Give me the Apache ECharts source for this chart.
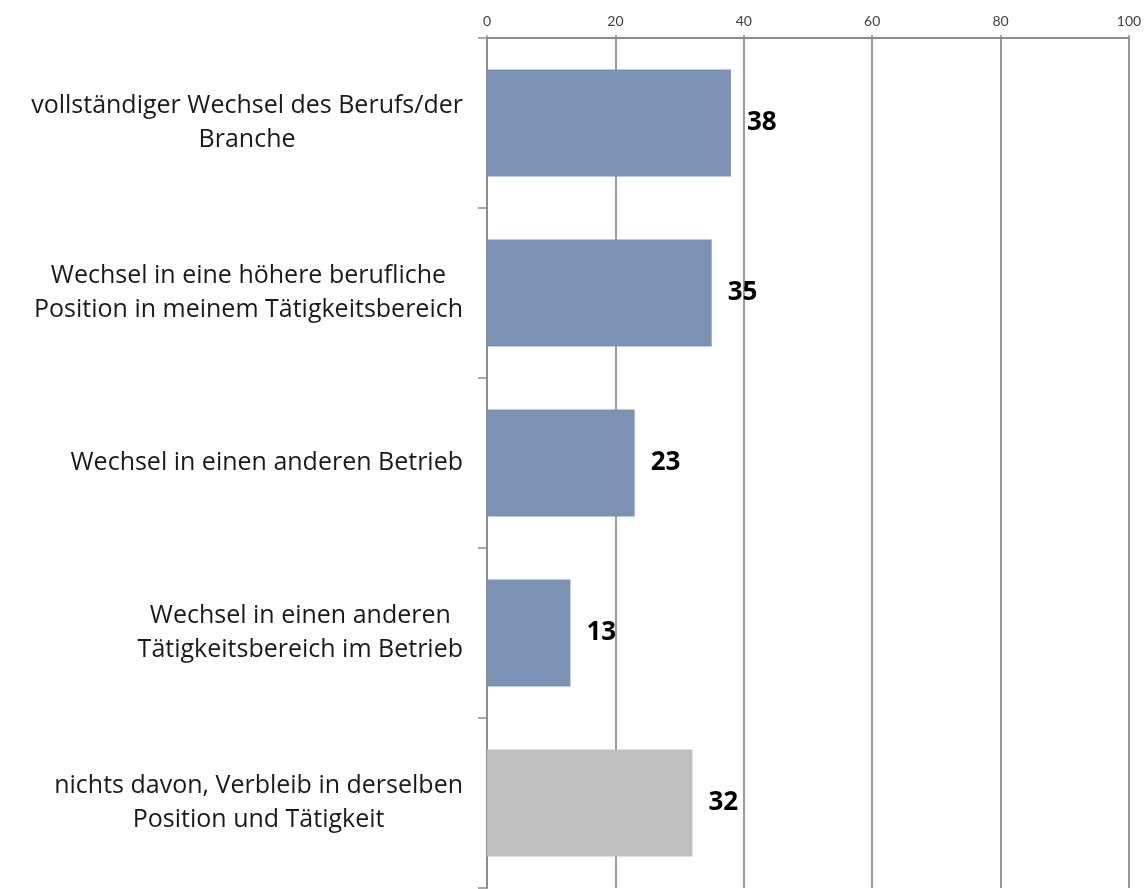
<!DOCTYPE html>
<html>
<head>
<meta charset="utf-8">
<script src="https://cdn.jsdelivr.net/npm/echarts@6/dist/echarts.min.js"></script>
<style>html,body{margin:0;padding:0;background:#fff;}#c{width:1146px;height:889px;}</style>
</head>
<body>
<div id="c"></div>
<script>
var categories = [
  ["vollständiger Wechsel des Berufs/der", "Branche"],
  ["Wechsel in eine höhere berufliche", "Position in meinem Tätigkeitsbereich"],
  ["Wechsel in einen anderen Betrieb"],
  ["Wechsel in einen anderen", "Tätigkeitsbereich im Betrieb"],
  ["nichts davon, Verbleib in derselben", "Position und Tätigkeit"]
];
var values = [38, 35, 23, 13, 32];
var barColors = ["#7c92b4", "#7c92b4", "#7c92b4", "#7c92b4", "#c0c0c0"];
var xTicks = [0, 20, 40, 60, 80, 100];

var chart = echarts.init(document.getElementById('c'), null, {renderer: 'canvas'});
var catNames = categories.map(function (c) { return c.join('\n'); });
chart.setOption({
  animation: false,
  backgroundColor: '#ffffff',
  grid: {left: 487, right: 17, top: 38, height: 850, containLabel: false},
  xAxis: {
    type: 'value', position: 'top', min: xTicks[0], max: xTicks[xTicks.length - 1], interval: 20,
    axisLine: {show: true, lineStyle: {color: '#8c8c8c', width: 2}},
    axisTick: {show: true, length: 3, lineStyle: {color: '#8c8c8c', width: 1.5}},
    splitLine: {show: true, lineStyle: {color: '#9a9a9a', width: 2}},
    axisLabel: {color: '#404040', fontSize: 14, fontFamily: 'Lato', margin: 10}
  },
  yAxis: {
    type: 'category', inverse: true, data: catNames,
    axisLine: {show: true, lineStyle: {color: '#8c8c8c', width: 2}},
    axisTick: {show: true, length: 9, lineStyle: {color: '#8c8c8c', width: 1.5}},
    axisLabel: {
      margin: 24, align: 'right', color: '#1a1a1a', fontFamily: 'Open Sans', fontSize: 25, lineHeight: 34,
      formatter: function (v) {
        return v.split('\n').map(function (l) { return '{c|' + l + '}'; }).join('\n');
      },
      rich: {c: {align: 'center', fontFamily: 'Open Sans', fontSize: 25, lineHeight: 34, color: '#1a1a1a'}}
    }
  },
  series: [{
    type: 'bar', barWidth: 107,
    data: values.map(function (v, i) { return {value: v, itemStyle: {color: barColors[i]}}; }),
    label: {show: true, position: 'right', distance: 16, color: '#000', fontWeight: 'bold', fontFamily: 'Open Sans', fontSize: 26}
  }]
});
</script>
</body>
</html>
